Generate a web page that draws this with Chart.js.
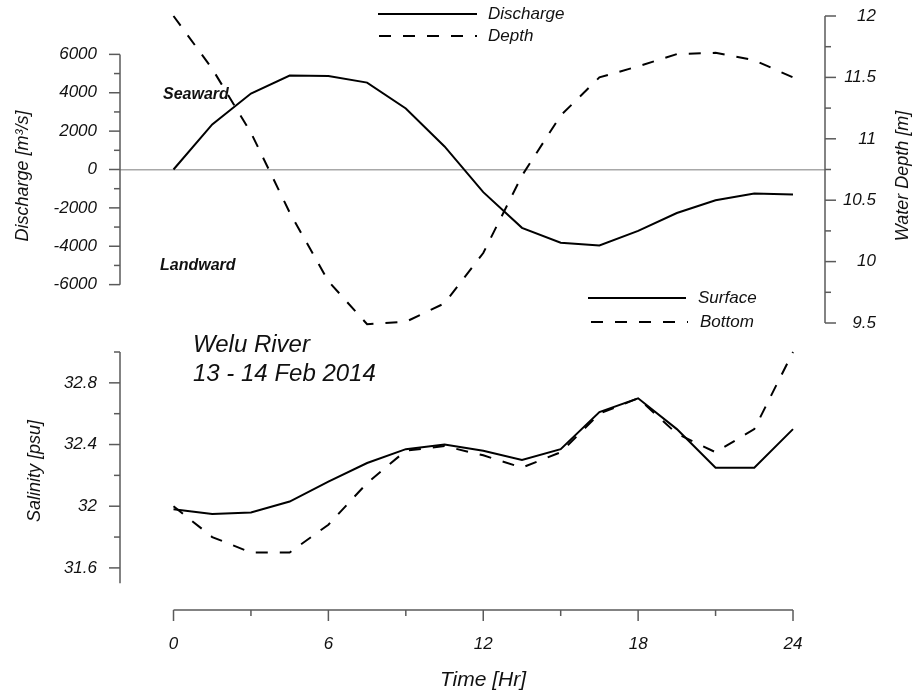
<!DOCTYPE html>
<html>
<head>
<meta charset="utf-8">
<title>Welu River</title>
<script src="https://cdn.jsdelivr.net/npm/chart.js@4.4.1/dist/chart.umd.min.js"></script>
<style>
    html, body { margin: 0; padding: 0; background: #fff; }
    #wrap { position: relative; width: 912px; height: 694px; }
    #wrap canvas { position: absolute; left: 0; top: 0; }
</style>
</head>
<body>
<div id="wrap">
    <canvas id="topChart" width="912" height="694"></canvas>
    <canvas id="bottomChart" width="912" height="694"></canvas>
</div>
<script>
// time in hours, one sample every 1.5 h
const hours = [0, 1.5, 3, 4.5, 6, 7.5, 9, 10.5, 12, 13.5, 15, 16.5, 18, 19.5, 21, 22.5, 24];
const discharge = [0, 2350, 3960, 4900, 4870, 4530, 3180, 1200, -1180, -3040, -3820, -3960, -3200, -2270, -1600, -1250, -1300];
const depth = [12.0, 11.57, 11.05, 10.40, 9.84, 9.49, 9.51, 9.66, 10.07, 10.70, 11.19, 11.50, 11.59, 11.69, 11.70, 11.64, 11.50];
const salSurface = [31.98, 31.95, 31.96, 32.03, 32.16, 32.28, 32.37, 32.40, 32.36, 32.30, 32.37, 32.61, 32.70, 32.50, 32.25, 32.25, 32.50];
const salBottom = [32.00, 31.80, 31.70, 31.70, 31.88, 32.15, 32.36, 32.39, 32.33, 32.25, 32.35, 32.60, 32.70, 32.47, 32.35, 32.50, 33.00];

const timeTicks = [0, 6, 12, 18, 24];
const timeMinor = [3, 9, 15, 21];
const dischargeTicks = [-6000, -4000, -2000, 0, 2000, 4000, 6000];
const dischargeMinor = [-5000, -3000, -1000, 1000, 3000, 5000];
const depthTicks = [9.5, 10, 10.5, 11, 11.5, 12];
const depthMinor = [9.75, 10.25, 10.75, 11.25, 11.75];
const salinityTicks = [31.6, 32, 32.4, 32.8];
const salinityMinor = [31.8, 32.2, 32.6, 33];

const FONT = "'Liberation Sans', Arial, sans-serif";
const AXIS_COLOR = '#5a5a5a';
const TEXT_COLOR = '#111';

const toPoints = ys => hours.map((h, i) => ({ x: h, y: ys[i] }));
const fixedTicks = list => scale => { scale.ticks = list.map(v => ({ value: v })); };
const tickFont = { family: FONT, size: 17, style: 'italic' };

// fix the box size and drop the label overhang so padding does not move the plot area
const fitWidth = w => s => { s.width = w; s.paddingTop = 0; s.paddingBottom = 0; };
const fitHeight = h => s => { s.height = h; s.paddingLeft = 0; s.paddingRight = 0; };

// axis lines and tick marks only over the labelled range
const axisLines = {
    id: 'axisLines',
    beforeDatasetsDraw(chart, args, opts) {
        const ctx = chart.ctx;
        const area = chart.chartArea;
        ctx.save();
        ctx.strokeStyle = AXIS_COLOR;
        ctx.lineWidth = 1.5;
        opts.axes.forEach(a => {
            const s = chart.scales[a.id];
            const mark = (v, len) => {
                const p = s.getPixelForValue(v);
                ctx.beginPath();
                if (a.side === 'bottom') {
                    ctx.moveTo(p, area.bottom);
                    ctx.lineTo(p, area.bottom + len);
                } else if (a.side === 'left') {
                    ctx.moveTo(area.left, p);
                    ctx.lineTo(area.left - len, p);
                } else {
                    ctx.moveTo(area.right, p);
                    ctx.lineTo(area.right + len, p);
                }
                ctx.stroke();
            };
            const p0 = s.getPixelForValue(a.from);
            const p1 = s.getPixelForValue(a.to);
            ctx.beginPath();
            if (a.side === 'bottom') {
                ctx.moveTo(p0, area.bottom);
                ctx.lineTo(p1, area.bottom);
            } else {
                const x = a.side === 'left' ? area.left : area.right;
                ctx.moveTo(x, p0);
                ctx.lineTo(x, p1);
            }
            ctx.stroke();
            a.major.forEach(v => mark(v, 11));
            a.minor.forEach(v => mark(v, 6));
        });
        ctx.restore();
    }
};

// free text: legends, notes and rotated axis titles
const notes = {
    id: 'notes',
    afterDraw(chart, args, opts) {
        const ctx = chart.ctx;
        ctx.save();
        ctx.fillStyle = TEXT_COLOR;
        (opts.legend || []).forEach(item => {
            const ds = chart.data.datasets[item.index];
            ctx.strokeStyle = ds.borderColor;
            ctx.lineWidth = ds.borderWidth;
            ctx.setLineDash(ds.borderDash || []);
            ctx.beginPath();
            ctx.moveTo(item.x0, item.y);
            ctx.lineTo(item.x1, item.y);
            ctx.stroke();
            ctx.setLineDash([]);
            ctx.font = 'italic 17px ' + FONT;
            ctx.textAlign = 'left';
            ctx.textBaseline = 'middle';
            ctx.fillText(ds.label, item.tx, item.y);
        });
        (opts.texts || []).forEach(t => {
            ctx.font = t.font;
            ctx.textAlign = t.align || 'left';
            ctx.textBaseline = 'alphabetic';
            ctx.save();
            ctx.translate(t.x, t.y);
            if (t.rotate) ctx.rotate(-Math.PI / 2);
            ctx.fillText(t.text, 0, 0);
            ctx.restore();
        });
        ctx.restore();
    }
};

document.addEventListener('DOMContentLoaded', () => {
    const line = (label, ys, axis, dash) => ({
        label: label,
        data: toPoints(ys),
        yAxisID: axis,
        borderColor: '#000',
        borderWidth: 2,
        borderDash: dash,
        pointRadius: 0,
        tension: 0,
        clip: false
    });

    // discharge + water depth panel
    new Chart(document.getElementById('topChart'), {
        type: 'line',
        data: {
            datasets: [
                line('Discharge', discharge, 'yQ', []),
                line('Depth', depth, 'yH', [12, 12])
            ]
        },
        options: {
            responsive: false,
            animation: false,
            layout: { padding: { top: 16, bottom: 371, left: 0, right: 36 } },
            plugins: {
                legend: { display: false },
                tooltip: { enabled: false },
                axisLines: {
                    axes: [
                        { id: 'yQ', side: 'left', from: -6000, to: 6000, major: dischargeTicks, minor: dischargeMinor },
                        { id: 'yH', side: 'right', from: 9.5, to: 12, major: depthTicks, minor: depthMinor }
                    ]
                },
                notes: {
                    legend: [
                        { index: 0, x0: 378, x1: 477, y: 14, tx: 488 },
                        { index: 1, x0: 379, x1: 477, y: 36, tx: 488 }
                    ],
                    texts: [
                        { text: 'Seaward', x: 163, y: 99, font: 'italic bold 16px ' + FONT },
                        { text: 'Landward', x: 160, y: 270, font: 'italic bold 16px ' + FONT },
                        { text: 'Discharge [m³/s]', x: 28, y: 176, rotate: true, align: 'center', font: 'italic 18px ' + FONT },
                        { text: 'Water Depth [m]', x: 908, y: 176, rotate: true, align: 'center', font: 'italic 18px ' + FONT }
                    ]
                }
            },
            scales: {
                x: { type: 'linear', display: false, min: -2.073, max: 25.24 },
                yQ: {
                    position: 'left',
                    min: -8000,
                    max: 8000,
                    afterBuildTicks: fixedTicks(dischargeTicks),
                    afterFit: fitWidth(120),
                    border: { display: false },
                    grid: {
                        drawTicks: false,
                        lineWidth: 1.5,
                        color: c => (c.tick && c.tick.value === 0 ? '#a8a8a8' : 'rgba(0,0,0,0)')
                    },
                    ticks: { padding: 23, color: TEXT_COLOR, font: tickFont, callback: v => String(v) }
                },
                yH: {
                    position: 'right',
                    min: 9.5,
                    max: 12,
                    afterBuildTicks: fixedTicks(depthTicks),
                    afterFit: fitWidth(51),
                    border: { display: false },
                    grid: { display: false, drawTicks: false },
                    ticks: { crossAlign: 'far', color: TEXT_COLOR, font: tickFont, callback: v => String(v) }
                }
            }
        },
        plugins: [axisLines, notes]
    });

    // salinity panel with the shared time axis
    new Chart(document.getElementById('bottomChart'), {
        type: 'line',
        data: {
            datasets: [
                line('Surface', salSurface, 'yS', []),
                line('Bottom', salBottom, 'yS', [12, 12])
            ]
        },
        options: {
            responsive: false,
            animation: false,
            layout: { padding: { top: 352, bottom: 0, left: 0, right: 66 } },
            plugins: {
                legend: { display: false },
                tooltip: { enabled: false },
                axisLines: {
                    axes: [
                        { id: 'x', side: 'bottom', from: 0, to: 24, major: timeTicks, minor: timeMinor },
                        { id: 'yS', side: 'left', from: 31.5, to: 33, major: salinityTicks, minor: salinityMinor }
                    ]
                },
                notes: {
                    legend: [
                        { index: 0, x0: 588, x1: 686, y: 298, tx: 698 },
                        { index: 1, x0: 591, x1: 688, y: 322, tx: 700 }
                    ],
                    texts: [
                        { text: 'Welu River', x: 193, y: 352, font: 'italic 24px ' + FONT },
                        { text: '13 - 14 Feb 2014', x: 193, y: 381, font: 'italic 24px ' + FONT },
                        { text: 'Salinity [psu]', x: 40, y: 471, rotate: true, align: 'center', font: 'italic 18px ' + FONT }
                    ]
                }
            },
            scales: {
                x: {
                    type: 'linear',
                    min: -2.073,
                    max: 26.053,
                    afterBuildTicks: fixedTicks(timeTicks),
                    afterFit: fitHeight(84),
                    border: { display: false },
                    grid: { display: false, drawTicks: false },
                    ticks: { padding: 24, color: TEXT_COLOR, font: tickFont, maxRotation: 0, callback: v => String(v) },
                    title: {
                        display: true,
                        text: 'Time [Hr]',
                        color: TEXT_COLOR,
                        font: { family: FONT, size: 21, style: 'italic' },
                        padding: { top: 0, bottom: 1 }
                    }
                },
                yS: {
                    position: 'left',
                    min: 31.327,
                    max: 33,
                    afterBuildTicks: fixedTicks(salinityTicks),
                    afterFit: fitWidth(120),
                    border: { display: false },
                    grid: { display: false, drawTicks: false },
                    ticks: { padding: 23, color: TEXT_COLOR, font: tickFont, callback: v => String(v) }
                }
            }
        },
        plugins: [axisLines, notes]
    });
});
</script>
</body>
</html>
